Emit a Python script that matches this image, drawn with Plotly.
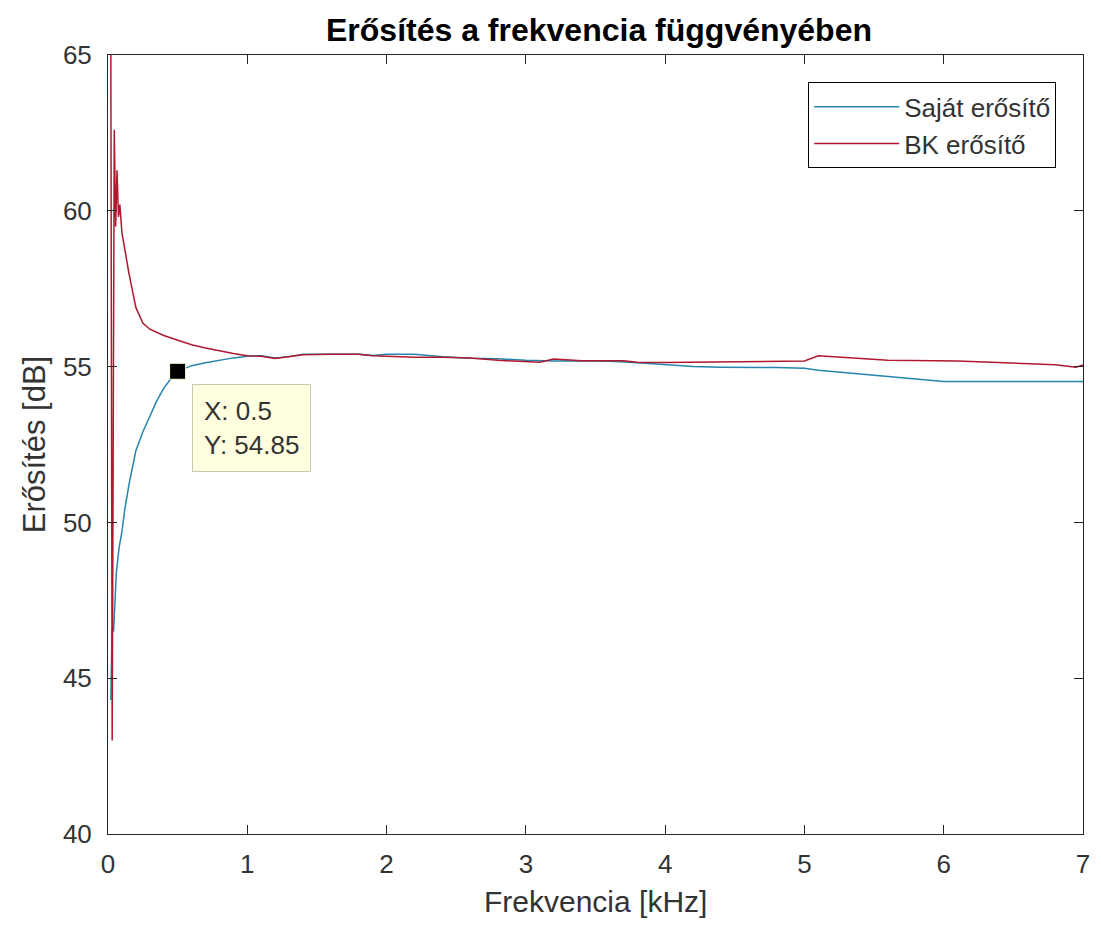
import plotly.graph_objects as go

x_sajat = [0.02, 0.03, 0.04, 0.05, 0.06, 0.07, 0.08, 0.1, 0.12, 0.15, 0.2, 0.25, 0.3, 0.35, 0.4, 0.45, 0.5,
           0.6, 0.7, 0.8, 0.9, 1.0, 1.1, 1.2, 1.3, 1.4, 1.6, 1.8, 1.9, 2.0, 2.2, 2.4, 2.6, 2.8, 3.0, 3.2,
           3.4, 3.6, 3.8, 4.0, 4.2, 4.4, 4.6, 4.8, 5.0, 5.1, 5.3, 5.5, 5.7, 5.9, 6.0, 6.5, 7.0]
y_sajat = [44.3, 46.6, 46.5, 47.6, 48.4, 48.8, 49.2, 49.7, 50.4, 51.2, 52.3, 52.9, 53.4, 53.9, 54.3, 54.6, 54.85,
           55.03, 55.12, 55.2, 55.28, 55.33, 55.35, 55.28, 55.32, 55.4, 55.4, 55.4, 55.36, 55.4, 55.4, 55.32,
           55.27, 55.25, 55.2, 55.18, 55.19, 55.17, 55.12, 55.05, 55.0, 54.98, 54.98, 54.97, 54.95, 54.88,
           54.8, 54.72, 54.64, 54.58, 54.52, 54.52, 54.52]

x_bk = [0.02, 0.03, 0.045, 0.055, 0.065, 0.075, 0.085, 0.1, 0.15, 0.2, 0.25, 0.3, 0.4, 0.5, 0.6, 0.7, 0.8,
        0.9, 1.0, 1.1, 1.2, 1.3, 1.4, 1.6, 1.8, 1.9, 2.0, 2.2, 2.4, 2.6, 2.8, 3.0, 3.1, 3.2, 3.4, 3.7, 3.8,
        4.0, 4.4, 4.8, 5.0, 5.1, 5.2, 5.35, 5.6, 6.1, 6.4, 6.8, 6.95, 7.0]
y_bk = [66.0, 43.0, 62.6, 59.5, 61.3, 59.8, 60.2, 59.3, 58.0, 56.9, 56.4, 56.2, 56.0, 55.85, 55.7, 55.6, 55.5,
        55.42, 55.35, 55.33, 55.26, 55.33, 55.38, 55.4, 55.4, 55.35, 55.33, 55.3, 55.3, 55.28, 55.2, 55.15,
        55.14, 55.24, 55.19, 55.19, 55.14, 55.13, 55.15, 55.17, 55.18, 55.35, 55.32, 55.27, 55.2, 55.18,
        55.12, 55.06, 54.98, 55.05]

tip_x = [0.5]
tip_y = [54.85]

x_ticks = [0, 1, 2, 3, 4, 5, 6, 7]
y_ticks = [40, 45, 50, 55, 60, 65]

FONT = "Liberation Sans, Arial, Helvetica, sans-serif"
AX = "#262626"
TXT = "#333333"

fig = go.Figure()
fig.add_trace(go.Scatter(x=x_sajat, y=y_sajat, mode="lines", name="Saját erősítő",
                         line=dict(color="#2585AE", width=1.5)))
fig.add_trace(go.Scatter(x=x_bk, y=y_bk, mode="lines", name="BK erősítő",
                         line=dict(color="#B0182E", width=1.5)))
fig.add_trace(go.Scatter(x=tip_x, y=tip_y, mode="markers", showlegend=False,
                         marker=dict(symbol="square", size=16, color="black",
                                     line=dict(color="#FFFFE0", width=1))))

fig.add_annotation(x=tip_x[0], y=tip_y[0], xref="x", yref="y",
                   text=f"X: {tip_x[0]}<br>Y: {tip_y[0]}",
                   showarrow=False, xanchor="left", yanchor="top",
                   xshift=14, yshift=-13, align="left",
                   font=dict(family=FONT, size=26, color=TXT),
                   bgcolor="#FFFFE0", bordercolor="#C8C8B4", borderwidth=1, borderpad=11)

# x-axis title placed as paper annotation
fig.add_annotation(x=0.5, y=-(902 - 834) / 779, xref="paper", yref="paper",
                   text="Frekvencia [kHz]", showarrow=False, xanchor="center", yanchor="middle",
                   font=dict(family=FONT, size=30, color=TXT))

axis_common = dict(showline=True, linecolor=AX, linewidth=1, mirror="ticks",
                   ticks="inside", ticklen=9, tickcolor=AX, showgrid=False, zeroline=False,
                   tickfont=dict(family=FONT, size=26, color=TXT))

fig.update_layout(
    width=1101, height=932,
    margin=dict(l=108, r=11, t=55, b=98),
    paper_bgcolor="white", plot_bgcolor="white",
    title=dict(text="<b>Erősítés a frekvencia függvényében</b>", x=(108 + 1090) / 2 / 1101, xanchor="center",
               y=1 - 30 / 932, yanchor="middle", font=dict(family=FONT, size=32, color="black")),
    xaxis=dict(range=[0, 7], tickvals=x_ticks, ticklabelstandoff=7, **axis_common),
    yaxis=dict(range=[40, 65], tickvals=y_ticks, ticklabelstandoff=10,
               title=dict(text="Erősítés [dB]", font=dict(family=FONT, size=31, color=TXT), standoff=8),
               **axis_common),
    legend=dict(x=0.9725, y=0.965, xanchor="right", yanchor="top",
                bordercolor="black", borderwidth=1, bgcolor="white", itemwidth=85,
                font=dict(family=FONT, size=26, color=TXT), tracegroupgap=0),
    showlegend=True,
)

fig.write_html("out.html")
